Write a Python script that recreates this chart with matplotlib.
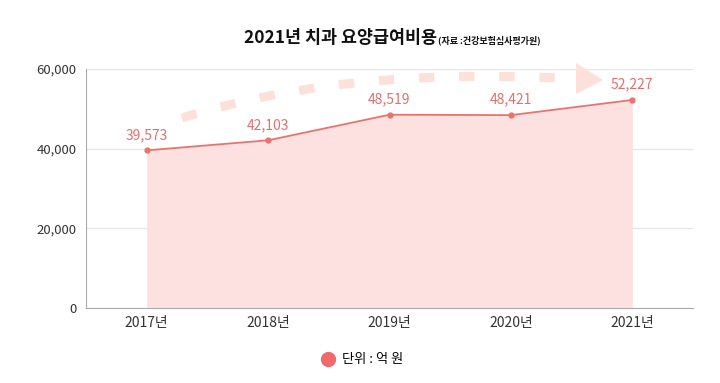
import matplotlib.pyplot as plt
from matplotlib.lines import Line2D
from matplotlib.path import Path
from matplotlib.patches import PathPatch, Polygon
import numpy as np

plt.rcParams['font.family'] = ['Noto Sans CJK KR', 'DejaVu Sans']

years = ['2017년', '2018년', '2019년', '2020년', '2021년']
costs = [39573, 42103, 48519, 48421, 52227]
y_ticks = [0, 20000, 40000, 60000]

# decorative trend arrow (cubic bezier control points) and head, in data units
arrow_path = [(0.29, 47700), (1.37, 57990), (2.48, 59250), (3.56, 57490)]
arrow_head = [(3.536, 61510), (3.536, 53720), (3.76, 57240)]

line_color = '#e8736f'
fill_color = '#fde0e0'
label_color = '#e0706f'
arrow_color = '#fde1d8'

fig = plt.figure(figsize=(7.2, 3.83), dpi=100)
ax = fig.add_axes([86/720, 1-308/383, (693-86)/720, (308-69)/383])

x = np.arange(len(years))
ax.fill_between(x, costs, 0, color=fill_color, lw=0, zorder=1)
ax.plot(x, costs, color=line_color, lw=1.3, marker='o', markersize=3.5, zorder=3)
for xi, v in zip(x, costs):
    ax.annotate(f'{v:,}', (xi, v), xytext=(0, 6), textcoords='offset points',
                ha='center', va='bottom', fontsize=10, color=label_color, zorder=4)

# dashed arrow
pp = Path(arrow_path, [Path.MOVETO, Path.CURVE4, Path.CURVE4, Path.CURVE4])
ax.add_patch(PathPatch(pp, fill=False, edgecolor=arrow_color, lw=6.5,
                       linestyle=(0, (1.7, 2.75)), capstyle='butt', zorder=2,
                       clip_on=False))
ax.add_patch(Polygon(arrow_head, closed=True, color=arrow_color, lw=0, zorder=2,
                     clip_on=False))

ax.set_xlim(-0.5, 4.5)
ax.set_ylim(0, 60000)
ax.set_xticks(x)
ax.set_xticklabels(years, fontsize=10, color='#333333')
ax.set_yticks(y_ticks)
ax.set_yticklabels([f'{t:,}' for t in y_ticks], fontsize=9.5, color='#333333')
ax.tick_params(axis='y', length=0, pad=7)
ax.tick_params(axis='x', length=0, pad=6)
ax.grid(axis='y', color='#e6e6e6', lw=1)
ax.set_axisbelow(True)
for s in ['top', 'right']:
    ax.spines[s].set_visible(False)
for s in ['left', 'bottom']:
    ax.spines[s].set_color('#aaaaaa')

fig.text(437/720, 1-43/383, '2021년 치과 요양급여비용', ha='right', va='baseline',
         fontsize=12.5, fontweight='bold', color='#111111')
fig.text(438/720, 1-43/383, '(자료 :건강보험심사평가원)', ha='left', va='baseline',
         fontsize=6.5, fontweight='bold', color='#111111')

handle = Line2D([], [], marker='o', ls='', color='#f06a6a', markersize=10)
fig.legend(handles=[handle], labels=['단위 : 억 원'], loc='center',
           bbox_to_anchor=(359/720, 1-360/383), frameon=False, fontsize=9.5,
           handletextpad=0.1, borderpad=0)

fig.savefig('out.png', dpi=100)
